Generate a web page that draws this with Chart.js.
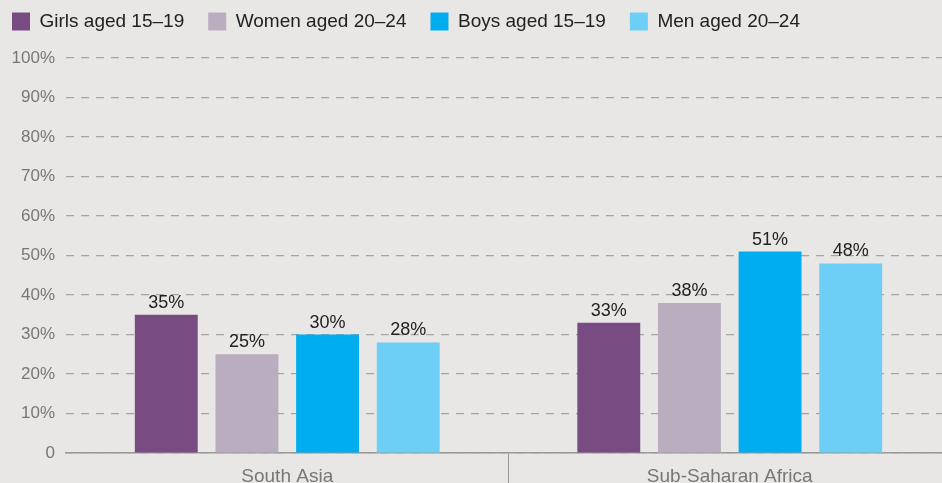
<!DOCTYPE html>
<html>
<head>
<meta charset="utf-8">
<script src="https://cdn.jsdelivr.net/npm/chart.js@4/dist/chart.umd.min.js"></script>
<style>
  html, body { margin: 0; padding: 0; background: #e8e7e5; }
  #wrap { width: 942px; height: 483px; }
</style>
</head>
<body>
<div id="wrap"><canvas id="barChart" width="942" height="483"></canvas></div>
<script>
// Categories and series (values in %)
const regions = ["South Asia", "Sub-Saharan Africa"];
const seriesNames = ["Girls aged 15\u201319", "Women aged 20\u201324", "Boys aged 15\u201319", "Men aged 20\u201324"];
const girls15to19 = [35, 33];
const women20to24 = [25, 38];
const boys15to19 = [30, 51];
const men20to24 = [28, 48];
const seriesColors = ["#784c82", "#b9adbf", "#00aeef", "#6dcff6"];

const FONT = "'Liberation Sans', Arial, sans-serif";

// draws the value label above each bar
const valueLabels = {
    id: "valueLabels",
    afterDatasetsDraw(chart) {
        const ctx = chart.ctx;
        ctx.save();
        ctx.font = "18px " + FONT;
        ctx.fillStyle = "#222";
        ctx.textAlign = "center";
        ctx.textBaseline = "alphabetic";
        chart.data.datasets.forEach((ds, i) => {
            chart.getDatasetMeta(i).data.forEach((bar, j) => {
                ctx.fillText(ds.data[j] + "%", bar.x, bar.y - 7);
            });
        });
        ctx.restore();
    }
};

// fix legend height so the plot starts lower
const legendHeight = {
    id: "legendHeight",
    beforeInit(chart) {
        const fit = chart.legend.fit;
        chart.legend.fit = function () {
            fit.call(this);
            this.height = 70;
        };
    }
};

// the original plot runs a little past the right edge of the picture
const widenX = {
    id: "widenX",
    afterLayout(chart) {
        const x = chart.scales.x;
        x.right += 9;
        x.width += 9;
        x.configure();
    }
};

const allSeries = [girls15to19, women20to24, boys15to19, men20to24];

const ctx = document.getElementById("barChart").getContext("2d");
const chart = new Chart(ctx, {
    type: "bar",
    data: {
        labels: regions,
        datasets: allSeries.map((vals, i) => ({
            label: seriesNames[i],
            data: vals,
            backgroundColor: seriesColors[i],
            categoryPercentage: 0.729,
            barPercentage: 0.78
        }))
    },
    options: {
        responsive: false,
        animation: false,
        layout: { padding: { left: -12, right: 0, top: -12, bottom: 0 } },
        plugins: {
            legend: {
                position: "top",
                align: "start",
                labels: {
                    boxWidth: 18,
                    boxHeight: 18,
                    padding: 24,
                    color: "#222",
                    font: { size: 19, family: FONT }
                }
            },
            tooltip: { enabled: false }
        },
        scales: {
            x: {
                afterFit: (s) => { s.height = 30; },
                grid: {
                    drawOnChartArea: false,
                    offset: true,
                    tickLength: 30,
                    color: (c) => (c.index === 1 ? "#999" : "rgba(0,0,0,0)")
                },
                border: { color: "#999", width: 1.5 },
                ticks: {
                    color: "#777",
                    padding: -18,
                    font: { size: 19, family: FONT }
                }
            },
            y: {
                min: 0,
                max: 100,
                afterFit: (s) => { s.width = 78; },
                grid: {
                    color: "#a5a5a5",
                    lineWidth: 1.2,
                    drawTicks: false
                },
                border: { display: false, dash: [8, 7] },
                ticks: {
                    stepSize: 10,
                    padding: 11,
                    color: "#777",
                    font: { size: 17, family: FONT },
                    callback: (v) => (v === 0 ? "0" : v + "%")
                }
            }
        }
    },
    plugins: [valueLabels, legendHeight, widenX]
});
</script>
</body>
</html>
